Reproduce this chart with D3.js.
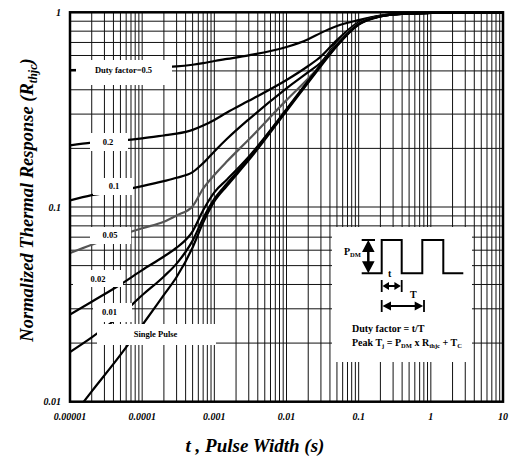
<!DOCTYPE html>
<html>
<head>
<meta charset="utf-8">
<script src="https://cdn.jsdelivr.net/npm/d3@7"></script>
<style>
  body { margin: 0; background: #fff; }
  svg { display: block; }
  text { font-family: "Liberation Serif", "Times New Roman", serif; font-weight: bold; }
</style>
</head>
<body>
<svg id="chart" width="509" height="463"></svg>
<script>

const pulseWidths = [1e-5, 2e-5, 5e-5, 1e-4, 2e-4, 3e-4, 5e-4, 7e-4, 1e-3, 1.5e-3, 3e-3, 1e-2, 2e-2, 3e-2, 5e-2, 0.1, 0.2, 0.4, 1, 10];

// normalized thermal response for each duty factor
const duty05 = [0.505, 0.507, 0.511, 0.516, 0.522, 0.527, 0.538, 0.548, 0.562, 0.576, 0.601, 0.663, 0.728, 0.784, 0.850, 0.912, 0.962, 0.986, 0.995, 1.0];
const duty02 = [0.207, 0.214, 0.219, 0.225, 0.233, 0.238, 0.249, 0.262, 0.280, 0.306, 0.351, 0.449, 0.530, 0.593, 0.720, 0.890, 0.960, 0.985, 0.994, 1.0];
const duty01 = [0.108, 0.115, 0.1215, 0.128, 0.1358, 0.1413, 0.151, 0.168, 0.193, 0.224, 0.282, 0.407, 0.493, 0.552, 0.700, 0.880, 0.957, 0.984, 0.993, 1.0];
const duty005 = [0.058, 0.064, 0.0718, 0.0778, 0.084, 0.0905, 0.101, 0.1244, 0.146, 0.1716, 0.222, 0.354, 0.457, 0.537, 0.688, 0.875, 0.955, 0.983, 0.993, 1.0];
const duty002 = [0.028, 0.0326, 0.040, 0.0474, 0.0557, 0.0618, 0.075, 0.0963, 0.119, 0.1385, 0.1814, 0.318, 0.445, 0.538, 0.680, 0.870, 0.954, 0.982, 0.992, 1.0];
const duty001 = [0.018, 0.0214, 0.0278, 0.0352, 0.0440, 0.0512, 0.0672, 0.0874, 0.110, 0.132, 0.1775, 0.315, 0.440, 0.535, 0.676, 0.868, 0.953, 0.982, 0.992, 1.0];
const singlePulse = [0.0081, 0.0113, 0.0174, 0.0247, 0.0354, 0.0437, 0.062, 0.0831, 0.1067, 0.1285, 0.174, 0.311, 0.436, 0.530, 0.672, 0.865, 0.952, 0.982, 0.992, 1.0];

const seriesNames = ["0.5", "0.2", "0.1", "0.05", "0.02", "0.01", "Single Pulse"];
const seriesValues = [duty05, duty02, duty01, duty005, duty002, duty001, singlePulse];
const seriesColors = ["#000", "#000", "#000", "#555", "#000", "#000", "#000"];

const xTickValues = [1e-5, 1e-4, 1e-3, 1e-2, 0.1, 1, 10];
const xTickLabels = ["0.00001", "0.0001", "0.001", "0.01", "0.1", "1", "10"];
const yTickValues = [0.01, 0.1, 1];
const yTickLabels = ["0.01", "0.1", "1"];

// label boxes sitting on the curves (pixel layout)
const curveLabels = [
  { text: "Duty factor=0.5", box: [76, 60, 96, 25], tx: 123.5, ty: 73 },
  { text: "0.2", box: [90, 133, 38, 18], tx: 108, ty: 145 },
  { text: "0.1", box: [93, 178, 40, 17], tx: 114, ty: 188.5 },
  { text: "0.05", box: [90, 227, 41, 17], tx: 110, ty: 238 },
  { text: "0.02", box: [73, 270, 50, 17], tx: 98, ty: 282 },
  { text: "0.01", box: [93, 303, 39, 19], tx: 109.5, ty: 315 },
  { text: "Single Pulse", box: [97, 324, 119, 21], tx: 155.5, ty: 336.5 }
];

const width = 509, height = 463;
const plot = { left: 70, right: 503, top: 12.3, bottom: 401.7 };

const svg = d3.select("#chart");
svg.append("rect").attr("width", width).attr("height", height).attr("fill", "#fff");

const x = d3.scaleLog().domain([1e-5, 10]).range([plot.left, plot.right]);
const y = d3.scaleLog().domain([0.01, 1]).range([plot.bottom, plot.top]);

svg.append("defs").append("clipPath").attr("id", "plot-clip")
  .append("rect")
  .attr("x", plot.left).attr("y", plot.top - 2)
  .attr("width", plot.right - plot.left).attr("height", plot.bottom - plot.top + 2);

// grid
const grid = svg.append("g").attr("stroke", "#111").attr("stroke-width", 1);
grid.selectAll(".vgrid").data(x.ticks()).enter().append("line")
  .attr("class", "vgrid")
  .attr("x1", d => x(d)).attr("x2", d => x(d))
  .attr("y1", plot.top).attr("y2", plot.bottom);
grid.selectAll(".hgrid").data(y.ticks()).enter().append("line")
  .attr("class", "hgrid")
  .attr("x1", plot.left).attr("x2", plot.right)
  .attr("y1", d => y(d)).attr("y2", d => y(d));

// curves
const line = d3.line()
  .x(d => x(d[0]))
  .y(d => y(d[1]))
  .curve(d3.curveMonotoneX);

const curves = svg.append("g").attr("clip-path", "url(#plot-clip)");
seriesValues.forEach((vals, i) => {
  curves.append("path")
    .datum(pulseWidths.map((t, j) => [t, vals[j]]))
    .attr("fill", "none")
    .attr("stroke", seriesColors[i])
    .attr("stroke-width", 2.2)
    .attr("stroke-linejoin", "round")
    .attr("d", line);
});

// white label boxes on the curves
const labels = svg.append("g");
curveLabels.forEach(l => {
  labels.append("rect")
    .attr("x", l.box[0]).attr("y", l.box[1])
    .attr("width", l.box[2]).attr("height", l.box[3])
    .attr("fill", "#fff");
  labels.append("text")
    .attr("x", l.tx).attr("y", l.ty)
    .attr("text-anchor", "middle")
    .attr("font-size", 8.5)
    .text(l.text);
});

// legend box with the pulse sketch
const lg = svg.append("g");
lg.append("rect").attr("x", 332).attr("y", 227).attr("width", 140).attr("height", 135).attr("fill", "#fff");

lg.append("path")
  .attr("d", "M361.7,273.3H381.7V240H401.7V273.3H422.3V240H443.3V273.3H463.3")
  .attr("fill", "none").attr("stroke", "#000").attr("stroke-width", 2);
lg.append("path").attr("d", "M361.7,240H375").attr("stroke", "#000").attr("stroke-width", 2);

// P_DM double arrow
lg.append("path").attr("d", "M368.3,248V265").attr("stroke", "#000").attr("stroke-width", 2.5);
lg.append("path").attr("d", "M368.3,240L362,252H374.6Z M368.3,273.3L362,261.3H374.6Z").attr("fill", "#000");

// t arrow
lg.append("path").attr("d", "M381.7,280V292 M401.7,280V292 M386,286H397").attr("stroke", "#000").attr("stroke-width", 1.8);
lg.append("path").attr("d", "M382.5,286L389,282V290Z M400.9,286L394.4,282V290Z").attr("fill", "#000");

// T arrow
lg.append("path").attr("d", "M381.7,300V312 M424,300V312 M386,306H420").attr("stroke", "#000").attr("stroke-width", 1.8);
lg.append("path").attr("d", "M382.5,306L391,301.5V310.5Z M423.2,306L414.7,301.5V310.5Z").attr("fill", "#000");

const pdm = lg.append("text").attr("x", 344).attr("y", 255).attr("font-size", 10);
pdm.append("tspan").text("P");
pdm.append("tspan").attr("font-size", 6.5).attr("dy", 2).text("DM");

lg.append("text").attr("x", 388).attr("y", 277).attr("font-size", 10).text("t");
lg.append("text").attr("x", 410).attr("y", 298).attr("font-size", 10).text("T");
lg.append("text").attr("x", 352).attr("y", 332).attr("font-size", 10).text("Duty factor = t/T");

const peak = lg.append("text").attr("x", 352).attr("y", 346).attr("font-size", 10);
[["Peak T", 0, 10], ["j", 2, 6.5], [" = P", -2, 10], ["DM", 2, 6.5], [" x R", -2, 10],
 ["thjc", 2, 6.5], [" + T", -2, 10], ["C", 2, 6.5]].forEach(p => {
  peak.append("tspan").attr("dy", p[1]).attr("font-size", p[2]).text(p[0]);
});

// frame
svg.append("rect")
  .attr("x", plot.left).attr("y", plot.top)
  .attr("width", plot.right - plot.left).attr("height", plot.bottom - plot.top)
  .attr("fill", "none").attr("stroke", "#000").attr("stroke-width", 2.5);

// tick labels
svg.selectAll(".xlab").data(xTickValues).enter().append("text")
  .attr("class", "xlab")
  .attr("x", d => x(d)).attr("y", 420)
  .attr("text-anchor", "middle")
  .attr("font-size", 10).attr("font-style", "italic")
  .text((d, i) => xTickLabels[i]);

svg.selectAll(".ylab").data(yTickValues).enter().append("text")
  .attr("class", "ylab")
  .attr("x", 61).attr("y", d => y(d) + 3.5)
  .attr("text-anchor", "end")
  .attr("font-size", 10).attr("font-style", "italic")
  .text((d, i) => yTickLabels[i]);

// axis titles
svg.append("text")
  .attr("x", 255).attr("y", 452)
  .attr("text-anchor", "middle")
  .attr("font-size", 19).attr("font-style", "italic")
  .text("t , Pulse Width (s)");

const yt = svg.append("text")
  .attr("transform", "translate(33,200) rotate(-90)")
  .attr("text-anchor", "middle")
  .attr("font-size", 18.5).attr("font-style", "italic");
yt.append("tspan").text("Normalized Thermal Response (R");
yt.append("tspan").attr("font-size", 12).attr("dy", 4).text("thjc");
yt.append("tspan").attr("dy", -4).text(")");

</script>
</body>
</html>
